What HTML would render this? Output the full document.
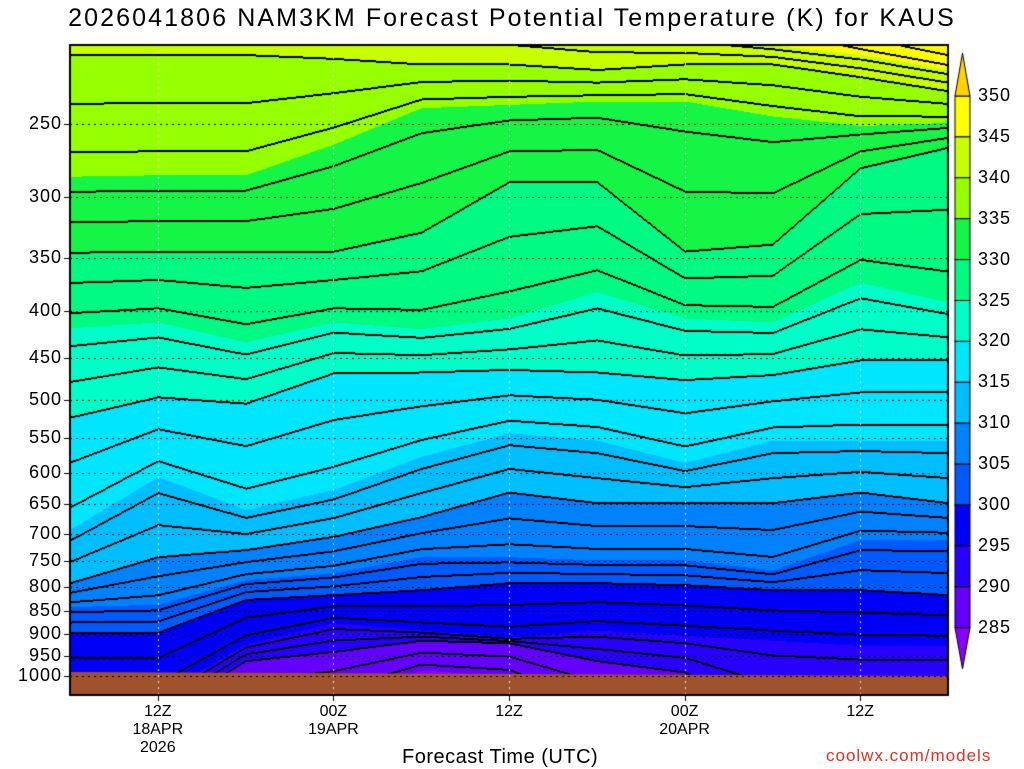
<!DOCTYPE html>
<html><head><meta charset="utf-8">
<style>
body{margin:0;background:#fff;width:1024px;height:768px;overflow:hidden;position:relative;font-family:"Liberation Sans",sans-serif}
.t{position:absolute;white-space:nowrap;color:#000}
</style></head><body>
<div class="t" style="left:0;width:1024px;top:4px;text-align:center;font-size:25px;letter-spacing:2.1px">2026041806 NAM3KM Forecast Potential Temperature (K) for KAUS</div>
<canvas id="cv" width="1024" height="768" style="position:absolute;left:0;top:0"></canvas>
<div id="lab"></div>
<div class="t" style="left:402px;top:746px;font-size:20px;letter-spacing:0.5px">Forecast Time (UTC)</div>
<div class="t" style="left:826px;top:746px;font-size:17px;color:#e03020;letter-spacing:1px">coolwx.com/models</div>
<script>
// forecast hours (from 06Z 18APR)
const hours=[0,6,12,18,24,30,36,42,48,54,60];
// isentrope values (K)
const isentropes=[285,290,295,300,305,310,315,320,325,330,335,340,345,350];
// pressure (hPa) of each isentrope at each forecast hour
const isentropePressure=[
[1200,1200,1100,1060,985,1000,1100,1200,1200,1200,1200],
[1100,1100,962,940,914,920,962,990,1100,1100,1100],
[1050,1050,922,875,891,907,891,903,914,926,926],
[896,896,825,815,805,791,791,795,805,805,815],
[840,835,785,771,741,741,747,747,766,710,710],
[791,741,728,704,670,630,647,647,647,630,647],
[692,606,658,626,576,543,553,585,553,553,553],
[522,496,504,467,466,463,466,475,469,452,452],
[417,411,432,411,418,407,381,407,411,372,391],
[345,344,344,344,328,289,289,344,338,279,265],
[285,284,284,263,240,238,236,236,245,251,249],
[210,210,210,212,215,215,218,215,215,222,230],
[185,185,185,185,185,190,195,200,205,210,218],
[150,150,150,150,150,150,150,150,170,195,205]];
const ptickLabels=[250,300,350,400,450,500,550,600,650,700,750,800,850,900,950,1000];
const timeTickHours=[6,18,30,42,54];
const timeTickLabels=[["12Z","18APR","2026"],["00Z","19APR"],["12Z"],["00Z","20APR"],["12Z"]];
const cbValues=[350,345,340,335,330,325,320,315,310,305,300,295,290,285];
const colors=[[140,0,255],[100,0,255],[40,0,255],[0,0,250],[0,90,255],[0,130,255],[0,190,255],[0,230,255],[0,255,200],[0,250,130],[20,245,70],[150,255,0],[200,255,0],[255,255,0],[255,210,0]];

const L=70,R=948,T=45,B=695;
const xS=h=>L+(h-0)/60*(R-L);
const yS=p=>124+Math.log(p/250)*398.2;
const cv=document.getElementById('cv'),c=cv.getContext('2d');
function band(v){let k=Math.floor((v-280)/5);return Math.max(0,Math.min(14,k));}
const W=R-L,H=B-T;
const vals=new Float32Array(W*H);
for(let x=0;x<W;x++){
  const h=x/W*60;let i=0;while(i<hours.length-2&&h>hours[i+1])i++;
  const ft=(h-hours[i])/(hours[i+1]-hours[i]);
  const lp=isentropePressure.map(r=>Math.log(r[i])*(1-ft)+Math.log(r[i+1])*ft);
  for(let k=1;k<lp.length;k++)if(lp[k]>lp[k-1]-0.001)lp[k]=lp[k-1]-0.001;
  for(let y=0;y<H;y++){
    const q=Math.log(250)+(y+T-124)/398.2;let v;
    if(q>=lp[0])v=isentropes[0]-(q-lp[0])*50;
    else if(q<=lp[lp.length-1])v=isentropes[lp.length-1]+(lp[lp.length-1]-q)*60;
    else{let k=0;while(q<lp[k+1])k++;const f=(lp[k]-q)/(lp[k]-lp[k+1]);v=isentropes[k]+f*5;}
    vals[y*W+x]=v;}
}
const img=c.createImageData(W,H);
const cls=v=>Math.floor(v/2);
for(let y=0;y<H;y++)for(let x=0;x<W;x++){
 const k=y*W+x;const v=vals[k];let col=colors[band(v)];
 const cl=cls(v);
 if((x<W-1&&cls(vals[k+1])!==cl)||(y<H-1&&cls(vals[k+W])!==cl)||(x>0&&cls(vals[k-1])!==cl)||(y>0&&cls(vals[k-W])!==cl))col=[0,0,0];
 img.data[k*4]=col[0];img.data[k*4+1]=col[1];img.data[k*4+2]=col[2];img.data[k*4+3]=255;}
c.putImageData(img,L,T);
// ground
c.fillStyle='rgb(160,82,45)';c.beginPath();c.moveTo(L,672);c.lineTo(R,676);c.lineTo(R,B);c.lineTo(L,B);c.closePath();c.fill();
// grid
c.setLineDash([2,4]);c.lineWidth=1;
c.strokeStyle='#000';
ptickLabels.forEach(p=>{const y=Math.round(yS(p))+0.5;c.beginPath();c.moveTo(L,y);c.lineTo(R,y);c.stroke();});
c.strokeStyle='#ddd';
timeTickHours.forEach(h=>{const x=Math.round(xS(h))+0.5;c.beginPath();c.moveTo(x,T);c.lineTo(x,B);c.stroke();});
c.setLineDash([]);
c.strokeStyle='#000';c.lineWidth=2;c.strokeRect(L,T,W,H);
c.lineWidth=1;
ptickLabels.forEach(p=>{const y=Math.round(yS(p))+0.5;c.beginPath();c.moveTo(L-6,y);c.lineTo(L,y);c.stroke();});
timeTickHours.forEach(h=>{const x=Math.round(xS(h))+0.5;c.beginPath();c.moveTo(x,B);c.lineTo(x,B+6);c.stroke();});
// colorbar
const cbX=955,cbW=15,cbY=v=>96+(350-v)*8.18;
for(let i=0;i<cbValues.length-1;i++){const v=cbValues[i];const y0=cbY(v),y1=cbY(v-5);
 const col=colors[band(v-2.5)];c.fillStyle=`rgb(${col})`;c.fillRect(cbX,y0,cbW,y1-y0);c.strokeRect(cbX,y0,cbW,y1-y0);}
c.fillStyle=`rgb(${colors[14]})`;c.beginPath();c.moveTo(cbX,96);c.lineTo(cbX+cbW/2,53);c.lineTo(cbX+cbW,96);c.closePath();c.fill();c.stroke();
c.fillStyle=`rgb(${colors[0]})`;c.beginPath();c.moveTo(cbX,cbY(285));c.lineTo(cbX+cbW/2,669);c.lineTo(cbX+cbW,cbY(285));c.closePath();c.fill();c.stroke();
// labels
const lab=document.getElementById('lab');
ptickLabels.forEach(p=>{const d=document.createElement('div');d.className='t';


d.style.cssText=`right:${1024-62}px;top:${yS(p)-11}px;font-size:18px;letter-spacing:1px`;d.textContent=p;lab.appendChild(d);});
timeTickHours.forEach((h,i)=>{timeTickLabels[i].forEach((s,j)=>{const d=document.createElement('div');d.className='t';


d.style.cssText=`left:${xS(h)-40}px;width:80px;text-align:center;top:${703+j*18}px;font-size:16px`;d.textContent=s;lab.appendChild(d);});});
cbValues.forEach(v=>{const d=document.createElement('div');d.className='t';


d.style.cssText=`left:978px;top:${cbY(v)-11}px;font-size:18px;letter-spacing:1px`;d.textContent=v;lab.appendChild(d);});
</script>
</body></html>
